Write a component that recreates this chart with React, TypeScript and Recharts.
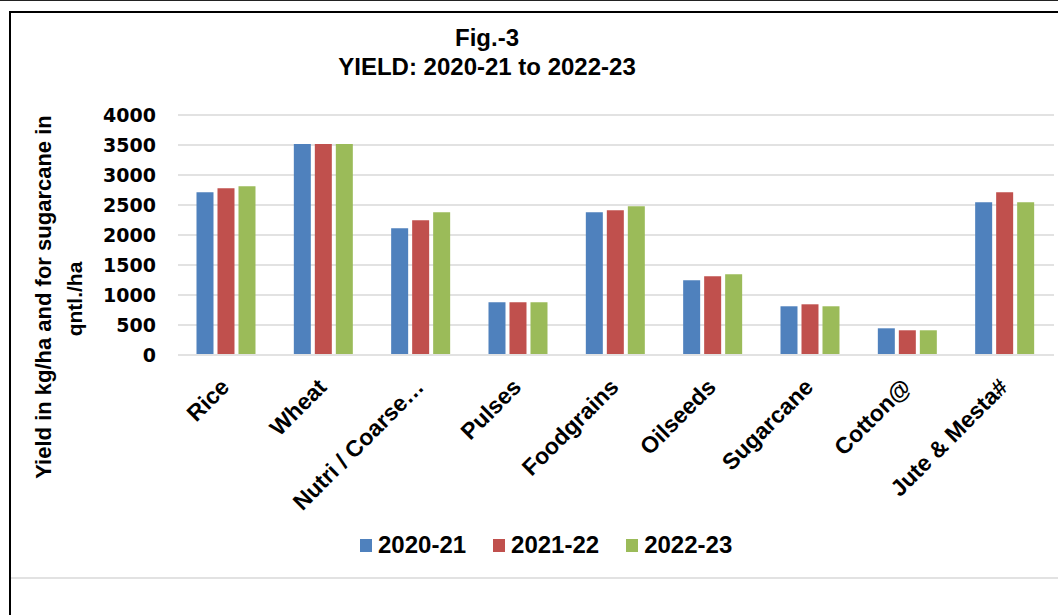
import React from 'react';
import { BarChart, Bar, XAxis, YAxis, CartesianGrid, Legend } from 'recharts';

const categories = ['Rice', 'Wheat', 'Nutri / Coarse…', 'Pulses', 'Foodgrains', 'Oilseeds', 'Sugarcane', 'Cotton@', 'Jute & Mesta#'];
const yield2020 = [2711, 3517, 2112, 878, 2378, 1245, 812, 445, 2545];
const yield2021 = [2778, 3517, 2245, 878, 2412, 1312, 845, 412, 2712];
const yield2022 = [2811, 3517, 2378, 878, 2478, 1345, 812, 412, 2545];
const seriesNames = ['2020-21', '2021-22', '2022-23'];
const seriesColors = ['#4F81BD', '#C0504D', '#9BBB59'];
const yTicks = [0, 500, 1000, 1500, 2000, 2500, 3000, 3500, 4000];
const titleLines = ['Fig.-3', 'YIELD: 2020-21 to 2022-23'];
const yLabelLines = ['Yield in kg/ha and for sugarcane in', 'qntl./ha'];

const data = categories.map((c, i) => ({
  name: c,
  [seriesNames[0]]: yield2020[i],
  [seriesNames[1]]: yield2021[i],
  [seriesNames[2]]: yield2022[i],
}));

const ARIAL = '"Liberation Sans", Arial, sans-serif';

const XTick = (props: any) => {
  const { x, y, payload } = props;
  return (
    <g transform={`translate(${x + 4},${y + 33.5})`}>
      <text
        x={0}
        y={0}
        textAnchor="end"
        transform="rotate(-45)"
        fontFamily={ARIAL}
        fontWeight="bold"
        fontSize={23}
        fill="#000"
      >
        {payload.value}
      </text>
    </g>
  );
};

const YLabel = () => (
  <g>
    <text
      x={0}
      y={0}
      transform="translate(51,297) rotate(-90)"
      textAnchor="middle"
      fontFamily={ARIAL}
      fontWeight="bold"
      fontSize={22}
      fill="#000"
    >
      {yLabelLines[0]}
    </text>
    <text
      x={0}
      y={0}
      transform="translate(82,299) rotate(-90)"
      textAnchor="middle"
      fontFamily={ARIAL}
      fontWeight="bold"
      fontSize={21}
      fill="#000"
    >
      {yLabelLines[1]}
    </text>
  </g>
);

const LegendContent = () => (
  <div
    style={{
      display: 'flex',
      alignItems: 'center',
      height: 28,
      paddingLeft: 360,
      gap: 27,
      fontFamily: ARIAL,
      fontWeight: 'bold',
      fontSize: 24,
      color: '#000',
    }}
  >
    {seriesNames.map((n, i) => (
      <div key={n} style={{ display: 'flex', alignItems: 'center' }}>
        <div style={{ width: 12, height: 13, background: seriesColors[i], marginRight: 6 }} />
        <span style={{ lineHeight: '28px' }}>{n}</span>
      </div>
    ))}
  </div>
);

export default function App() {
  return (
    <div style={{ position: 'absolute', left: 0, top: 0, width: 1058, height: 615, background: '#fff', overflow: 'hidden' }}>
      <BarChart
        width={1058}
        height={615}
        data={data}
        margin={{ top: 115, right: 4, bottom: 112, left: 0 }}
        barCategoryGap="19%"
        barGap={4}
      >
        <CartesianGrid vertical={false} stroke="#e2e2e2" strokeWidth={2} />
        <XAxis
          dataKey="name"
          interval={0}
          height={120}
          tickLine={false}
          tickSize={0}
          tickMargin={0}
          axisLine={{ stroke: '#e2e2e2', strokeWidth: 2 }}
          tick={<XTick />}
        />
        <YAxis
          width={178}
          domain={[0, 4000]}
          ticks={yTicks}
          interval={0}
          axisLine={false}
          tickLine={false}
          tickSize={0}
          tickMargin={22}
          tick={{ fontFamily: '"DejaVu Sans", sans-serif', fontWeight: 'bold', fontSize: 19, fill: '#000' }}
          label={{ content: YLabel }}
        />
        <Legend
          verticalAlign="bottom"
          content={LegendContent}
          wrapperStyle={{ position: 'absolute', top: 531, left: 0, width: 1058, height: 28 }}
        />
        {seriesNames.map((n, i) => (
          <Bar key={n} dataKey={n} fill={seriesColors[i]} isAnimationActive={false} />
        ))}
      </BarChart>
      <svg
        width={1058}
        height={615}
        style={{ position: 'absolute', left: 0, top: 0, pointerEvents: 'none' }}
      >
        <rect x={0} y={0} width={1058} height={1} fill="#222" />
        <rect x={9} y={11} width={1049} height={2} fill="#000" />
        <rect x={9} y={11} width={2} height={604} fill="#000" />
        <rect x={11} y={577} width={1047} height={2} fill="#e2e2e2" />
        <text x={487} y={46} textAnchor="middle" fontFamily={ARIAL} fontWeight="bold" fontSize={24} fill="#000">
          {titleLines[0]}
        </text>
        <text x={487} y={75} textAnchor="middle" fontFamily={ARIAL} fontWeight="bold" fontSize={24} fill="#000">
          {titleLines[1]}
        </text>
      </svg>
    </div>
  );
}
